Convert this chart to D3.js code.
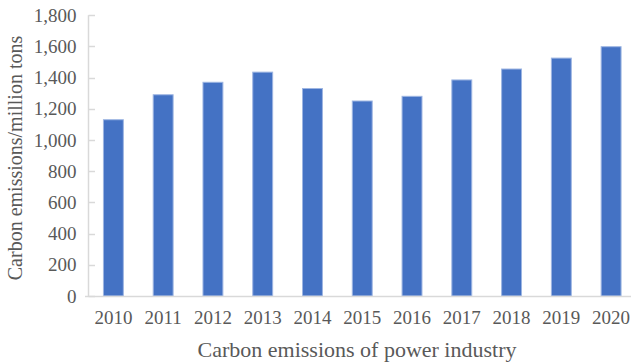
<!DOCTYPE html>
<html>
<head>
<meta charset="utf-8">
<script src="https://cdn.jsdelivr.net/npm/d3@7"></script>
<style>
  body { margin: 0; background: #fff; }
  text { font-family: 'Liberation Serif', 'Times New Roman', serif; fill: #595959; }
</style>
</head>
<body>
<div id="chart-container"></div>
<script>
// carbon emissions of power industry, 2010-2020
const years = ['2010', '2011', '2012', '2013', '2014', '2015', '2016', '2017', '2018', '2019', '2020'];
const emissions = [1130, 1290, 1370, 1435, 1330, 1250, 1280, 1385, 1455, 1525, 1598];
const yTicks = [0, 200, 400, 600, 800, 1000, 1200, 1400, 1600, 1800];

const data = years.map(function (y, i) {
  return { Year: y, Value: emissions[i] };
});

const svgWidth = 631;
const svgHeight = 363;

const svg = d3
  .select('#chart-container')
  .append('svg')
  .attr('width', svgWidth)
  .attr('height', svgHeight);

const xScale = d3
  .scaleBand()
  .domain(years)
  .range([88.5, 636])
  .paddingInner(0.6)
  .paddingOuter(0.3);

const yScale = d3.scaleLinear().domain([0, 1800]).range([296, 15.2]);

// y axis labels
const yAxis = d3
  .axisLeft(yScale)
  .tickValues(yTicks)
  .tickSize(0)
  .tickPadding(12)
  .tickFormat(d3.format(','));
const gy = svg.append('g').attr('transform', 'translate(88.5,0)').call(yAxis);
gy.select('.domain').remove();
gy.selectAll('text').style('font-size', '19px').attr('fill', '#595959');

// y axis line + short ticks
svg
  .append('line')
  .attr('x1', 88.5)
  .attr('x2', 88.5)
  .attr('y1', yScale(1800))
  .attr('y2', yScale(0))
  .attr('stroke', '#d9d9d9')
  .attr('stroke-width', 1.5);

svg
  .selectAll('.ytick')
  .data(yTicks)
  .enter()
  .append('line')
  .attr('class', 'ytick')
  .attr('x1', 88.5)
  .attr('x2', 95)
  .attr('y1', (d) => Math.round(yScale(d)) + 0.5)
  .attr('y2', (d) => Math.round(yScale(d)) + 0.5)
  .attr('stroke', '#d9d9d9')
  .attr('stroke-width', 1.5);

// bars
svg
  .selectAll('rect')
  .data(data)
  .enter()
  .append('rect')
  .attr('x', (d) => xScale(d.Year))
  .attr('y', (d) => yScale(d.Value))
  .attr('width', xScale.bandwidth())
  .attr('height', (d) => yScale(0) - yScale(d.Value))
  .attr('fill', '#4472c4')
  .attr('stroke', '#9db5e2')
  .attr('stroke-width', 1);

// x baseline
svg
  .append('line')
  .attr('x1', 85)
  .attr('x2', 631)
  .attr('y1', 296.5)
  .attr('y2', 296.5)
  .attr('stroke', '#d9d9d9')
  .attr('stroke-width', 1.5);

// x axis labels
const xAxis = d3.axisBottom(xScale).tickSize(0).tickPadding(15);
const gx = svg.append('g').attr('transform', 'translate(0,296)').call(xAxis);
gx.select('.domain').remove();
gx.selectAll('text').style('font-size', '19px').attr('fill', '#595959');

// axis titles
svg
  .append('text')
  .attr('x', 357)
  .attr('y', 357)
  .attr('text-anchor', 'middle')
  .style('font-size', '22px')
  .text('Carbon emissions of power industry');

svg
  .append('text')
  .attr('transform', 'translate(22,158) rotate(-90)')
  .attr('text-anchor', 'middle')
  .style('font-size', '20px')
  .text('Carbon emissions/million tons');
</script>
</body>
</html>
